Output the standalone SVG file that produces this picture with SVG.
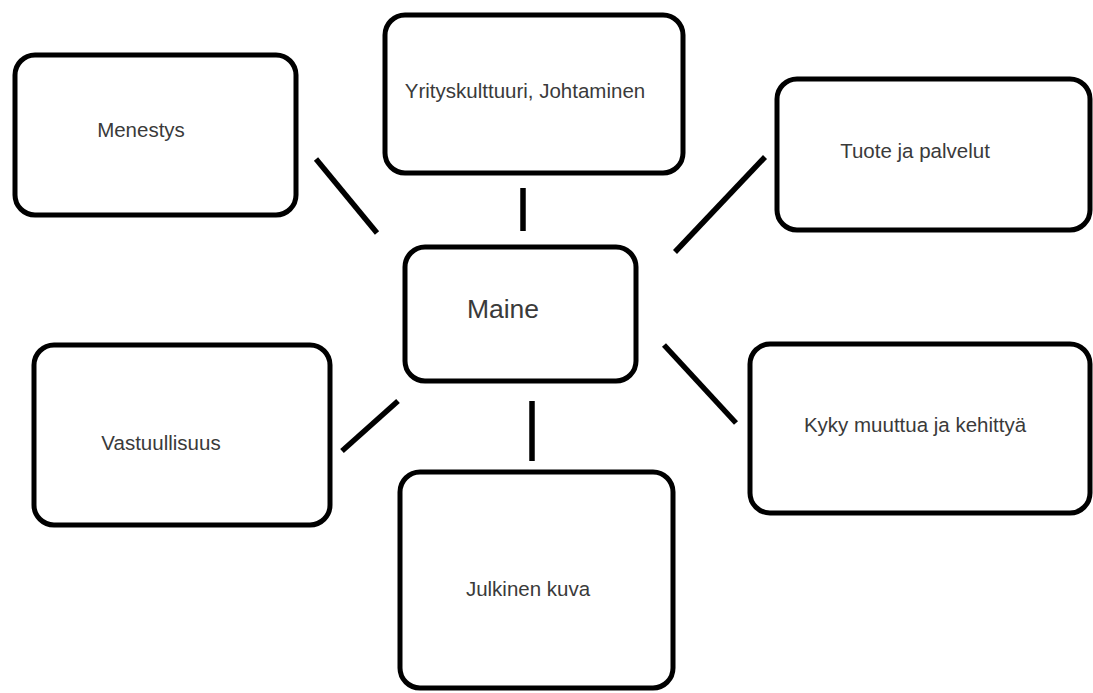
<svg xmlns="http://www.w3.org/2000/svg" width="1093" height="693" viewBox="0 0 1093 693">
<style>
.box{fill:#fff;stroke:#000;stroke-width:5}
.lbl{font-family:"Liberation Sans",Arial,sans-serif;font-size:20.5px;fill:#3a3a3a;text-anchor:middle}
.big{font-size:26.5px}
.con line{stroke:#000;stroke-width:5.5;stroke-linecap:butt}
</style>
<rect width="1093" height="693" fill="#fff"/>
<g id="connectors" class="con">
<line x1="316" y1="159" x2="377" y2="233"/>
<line x1="523" y1="188" x2="523" y2="231"/>
<line x1="765" y1="157" x2="675" y2="252"/>
<line x1="664" y1="345" x2="736" y2="423"/>
<line x1="398" y1="401" x2="342" y2="451"/>
<line x1="532" y1="401" x2="532" y2="461"/>
</g>
<g id="menestys"><rect class="box" x="15" y="55" width="281" height="160" rx="20"/><text class="lbl" x="141" y="137">Menestys</text></g>
<g id="yrityskulttuuri"><rect class="box" x="385" y="15" width="298" height="158" rx="20"/><text class="lbl" x="525" y="98">Yrityskulttuuri, Johtaminen</text></g>
<g id="tuote"><rect class="box" x="777" y="79" width="313" height="151" rx="20"/><text class="lbl" x="915" y="158">Tuote ja palvelut</text></g>
<g id="maine"><rect class="box" x="405" y="247" width="231" height="134" rx="20"/><text class="lbl big" x="503" y="318">Maine</text></g>
<g id="vastuullisuus"><rect class="box" x="34" y="345" width="296" height="180" rx="20"/><text class="lbl" x="161" y="450">Vastuullisuus</text></g>
<g id="kyky"><rect class="box" x="750" y="344" width="340" height="169" rx="20"/><text class="lbl" x="915" y="432">Kyky muuttua ja kehittyä</text></g>
<g id="julkinen"><rect class="box" x="400" y="472" width="273" height="216" rx="20"/><text class="lbl" x="528" y="596">Julkinen kuva</text></g>
</svg>
